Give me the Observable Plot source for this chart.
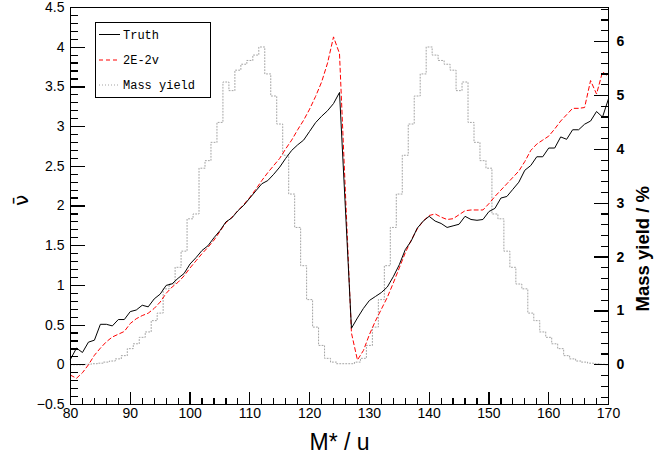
<!DOCTYPE html>
<html>
<head>
<meta charset="utf-8">
<script src="https://cdn.jsdelivr.net/npm/d3@7"></script>
<script src="https://cdn.jsdelivr.net/npm/@observablehq/plot@0.6"></script>
<style>
  html, body { margin: 0; padding: 0; background: #fff; }
  #wrap { position: relative; width: 671px; height: 455px; overflow: hidden; }
  #legend { position: absolute; left: 95px; top: 22px; }
</style>
</head>
<body>
<div id="wrap"></div>
<script>
// ---- data ----
const mass = [80,81,82,83,84,85,86,87,88,89,90,91,92,93,94,95,96,97,98,99,
  100,101,102,103,104,105,106,107,108,109,110,111,112,113,114,115,116,117,118,119,
  120,121,122,123,124,125,126,127,128,129,130,131,132,133,134,135,136,137,138,139,
  140,141,142,143,144,145,146,147,148,149,150,151,152,153,154,155,156,157,158,159,
  160,161,162,163,164,165,166,167,168,169,170];

const truth = [0.07,0.21,0.155,0.285,0.31,0.51,0.51,0.49,0.57,0.57,0.67,0.69,0.75,0.73,0.83,0.89,1.00,1.02,1.09,1.15,
  1.27,1.35,1.44,1.50,1.60,1.69,1.80,1.85,1.94,2.01,2.10,2.19,2.28,2.32,2.40,2.49,2.60,2.70,2.77,2.83,
  2.94,3.05,3.13,3.20,3.29,3.43,1.95,0.46,0.59,0.71,0.81,0.86,0.91,0.98,1.11,1.26,1.45,1.56,1.72,1.81,
  1.87,1.81,1.78,1.73,1.75,1.77,1.87,1.83,1.82,1.83,1.93,1.97,2.10,2.12,2.21,2.30,2.45,2.51,2.62,2.62,
  2.73,2.73,2.87,2.84,2.96,2.96,3.03,3.07,3.19,3.12,3.35];

const twoE2v = [-0.13,-0.17,-0.10,0.00,0.12,0.21,0.29,0.35,0.385,0.42,0.52,0.58,0.62,0.65,0.71,0.79,0.90,0.98,1.04,1.12,
  1.22,1.31,1.40,1.48,1.57,1.68,1.79,1.86,1.94,2.02,2.11,2.21,2.32,2.42,2.51,2.60,2.72,2.83,2.96,3.08,
  3.22,3.38,3.56,3.80,4.13,3.92,2.15,0.40,0.06,0.18,0.38,0.55,0.70,0.85,1.03,1.22,1.41,1.57,1.71,1.81,
  1.88,1.90,1.86,1.83,1.84,1.89,1.94,1.95,1.95,1.95,2.03,2.12,2.20,2.28,2.36,2.44,2.56,2.70,2.78,2.83,
  2.88,2.97,3.07,3.15,3.23,3.23,3.24,3.58,3.41,3.69,3.63];

// mass yield in %, right axis
const massYield = [0,0,0,0.01,0.02,0.03,0.05,0.07,0.11,0.17,0.30,0.39,0.51,0.61,0.82,0.96,1.41,1.50,1.81,2.11,
  2.71,2.80,3.65,3.79,4.13,4.50,5.25,5.09,5.47,5.58,5.65,5.75,5.90,5.40,4.99,4.47,3.89,3.17,2.55,1.84,
  1.21,0.70,0.36,0.12,0.05,0.02,0.02,0.02,0.05,0.12,0.36,0.70,1.21,1.84,2.55,3.17,3.89,4.47,4.99,5.40,
  5.90,5.75,5.65,5.58,5.47,5.09,5.25,4.50,4.13,3.79,3.65,2.80,2.71,2.11,1.81,1.50,1.41,0.96,0.82,0.61,
  0.51,0.39,0.30,0.17,0.11,0.07,0.05,0.03,0.02,0.01,0];

// tick values
const xMajor = [80,90,100,110,120,130,140,150,160,170];
const leftMajor = [-0.5,0,0.5,1,1.5,2,2.5,3,3.5,4,4.5];
const rightMajor = [0,1,2,3,4,5,6];
const seriesNames = ["Truth", "2E-2v", "Mass yield"];

// right axis (%) expressed in left-axis units
const k = 0.6784;

const rows = mass.map((m, i) => ({m, truth: truth[i], e2v: twoE2v[i], yld: massYield[i] * k}));

const xMinor = d3.range(80, 170.01, 2).filter(v => v % 10 !== 0);
const leftMinor = d3.range(-5, 46).map(v => v / 10).filter((v, i) => (i % 5) !== 0);
const rightMinor = d3.range(-3, 34).filter(v => v % 5 !== 0).map(v => v * 0.2 * k);

const W = 671, H = 455, mL = 70, mR = 63, mT = 7, mB = 51;
const fw = W - mL - mR, fh = H - mT - mB;   // frame size, used for tick lengths

const font = "'Liberation Sans', Arial, Helvetica, sans-serif";
const numFmt = d => (d < 0 ? "\u2212" : "") + String(Math.abs(d));
const histGray = "#a3a3a3";
const tickStyle = {stroke: "#000", strokeWidth: 1.2, strokeOpacity: 1, shapeRendering: "crispEdges"};

const chart = Plot.plot({
  width: W,
  height: H,
  marginLeft: mL,
  marginRight: mR,
  marginTop: mT,
  marginBottom: mB,
  x: {domain: [80, 170], label: null},
  y: {domain: [-0.5, 4.5], label: null},
  style: {fontFamily: font, fontSize: "14px", color: "#000", background: "#fff", overflow: "visible"},
  marks: [
    Plot.line(rows, {x: "m", y: "yld", curve: "step", stroke: histGray, strokeWidth: 1, strokeDasharray: "1,2"}),
    Plot.line(rows, {x: "m", y: "e2v", stroke: "#ff0000", strokeWidth: 1, strokeDasharray: "4,3"}),
    Plot.line(rows, {x: "m", y: "truth", stroke: "#000", strokeWidth: 1}),
    Plot.frame({stroke: "#000", strokeWidth: 1}),
    // tick labels
    Plot.axisX(xMajor, {anchor: "bottom", tickSize: 0, tickPadding: 4, label: null, fontSize: 14, tickFormat: numFmt}),
    Plot.axisY(leftMajor, {anchor: "left", tickSize: 0, tickPadding: 6, label: null, fontSize: 14, tickFormat: numFmt}),
    Plot.axisY(rightMajor.map(v => v * k), {anchor: "right", tickSize: 0, tickPadding: 8, label: null,
      fontSize: 14, fontWeight: "bold", tickFormat: d => String(Math.round(d / k))}),
    // axis titles
    Plot.text(["M* / u"], {text: d => d, frameAnchor: "bottom", dy: 45, lineAnchor: "bottom", fontSize: 23}),
    Plot.text(["\u03BD\u0304"], {text: d => d, frameAnchor: "left", dx: -43, rotate: -90, lineAnchor: "bottom", fontSize: 20, fontFamily: "'DejaVu Sans', sans-serif"}),
    Plot.text(["Mass yield / %"], {text: d => d, frameAnchor: "right", dx: 40.5, dy: -20, rotate: -90, lineAnchor: "bottom", fontSize: 18.5, fontWeight: "bold"}),
    // inward ticks, drawn last so nothing covers them
    Plot.tickX(xMajor, {x: d => d, insetTop: fh - 12, ...tickStyle}),
    Plot.tickX(xMinor, {x: d => d, insetTop: fh - 6, ...tickStyle}),
    Plot.tickY(leftMajor, {y: d => d, insetRight: fw - 15, ...tickStyle}),
    Plot.tickY(leftMinor, {y: d => d, insetRight: fw - 8, ...tickStyle}),
    Plot.tickY(rightMajor.map(v => v * k), {y: d => d, insetLeft: fw - 14, ...tickStyle}),
    Plot.tickY(rightMinor, {y: d => d, insetLeft: fw - 7, ...tickStyle})
  ]
});

const wrap = document.getElementById("wrap");
wrap.appendChild(chart);

// legend box (inside the frame, top-left)
const styles = [
  {stroke: "#000", dash: null},
  {stroke: "#ff0000", dash: "4,3"},
  {stroke: histGray, dash: "1,2"}
];
const rowY = [12.5, 38, 63];
const NS = "http://www.w3.org/2000/svg";
const leg = document.createElementNS(NS, "svg");
leg.setAttribute("id", "legend");
leg.setAttribute("width", 116);
leg.setAttribute("height", 76);
const rect = document.createElementNS(NS, "rect");
rect.setAttribute("x", 0.5); rect.setAttribute("y", 0.5);
rect.setAttribute("width", 115); rect.setAttribute("height", 75);
rect.setAttribute("fill", "#fff"); rect.setAttribute("stroke", "#000"); rect.setAttribute("stroke-width", 1);
leg.appendChild(rect);
seriesNames.forEach((name, i) => {
  const ln = document.createElementNS(NS, "line");
  ln.setAttribute("x1", 4); ln.setAttribute("x2", 25);
  ln.setAttribute("y1", rowY[i]); ln.setAttribute("y2", rowY[i]);
  ln.setAttribute("stroke", styles[i].stroke);
  if (styles[i].dash) ln.setAttribute("stroke-dasharray", styles[i].dash);
  leg.appendChild(ln);
  const tx = document.createElementNS(NS, "text");
  tx.setAttribute("x", 28); tx.setAttribute("y", rowY[i] + 4);
  tx.setAttribute("font-family", "'Liberation Mono', 'Courier New', monospace");
  tx.setAttribute("font-size", 12);
  tx.textContent = name;
  leg.appendChild(tx);
});
wrap.appendChild(leg);
</script>
</body>
</html>
